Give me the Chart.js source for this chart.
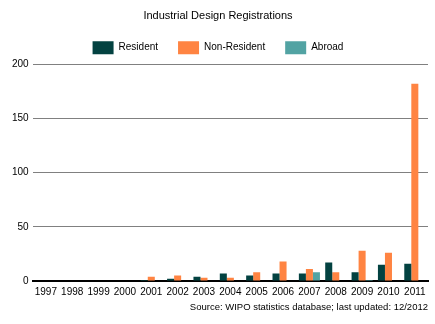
<!DOCTYPE html>
<html>
<head>
<meta charset="utf-8">
<script src="https://cdn.jsdelivr.net/npm/chart.js@4.4.0/dist/chart.umd.min.js"></script>
<style>
  html, body { margin: 0; padding: 0; background: #fff; }
  #wrap { width: 435px; height: 324px; position: relative; }
</style>
</head>
<body>
<div id="wrap"><canvas id="chart"></canvas></div>
<script>
// Industrial design registrations by year
const years = ['1997','1998','1999','2000','2001','2002','2003','2004','2005','2006','2007','2008','2009','2010','2011'];
const resident    = [0, 0, 0, 0, 1, 2, 4, 7, 5, 7, 7, 17, 8, 15, 16];
const nonResident = [0, 0, 0, 0, 4, 5, 3, 3, 8, 18, 11, 8, 28, 26, 182];
const abroad      = [0, 0, 0, 0, 0, 0, 0, 0, 0, 0, 8, 0, 1, 0, 0];
const yTicks = [0, 50, 100, 150, 200];

Chart.defaults.font.family = "'Liberation Sans', Arial, sans-serif";
Chart.defaults.font.size = 10;
Chart.defaults.color = '#000';

const ctx = document.getElementById('chart').getContext('2d');
new Chart(ctx, {
    type: 'bar',
    data: {
        labels: years,
        datasets: [
            { label: 'Resident', data: resident, backgroundColor: '#034241' },
            { label: 'Non-Resident', data: nonResident, backgroundColor: '#ff8442' },
            { label: 'Abroad', data: abroad, backgroundColor: '#52a3a3' }
        ]
    },
    options: {
        responsive: true,
        maintainAspectRatio: false,
        animation: false,
        layout: { padding: { left: 8, right: 7, top: 0, bottom: 0 } },
        datasets: {
            bar: { categoryPercentage: 0.8, barPercentage: 1.0 }
        },
        scales: {
            x: {
                grid: { display: false, drawTicks: false },
                border: { display: true, color: '#000', width: 2 },
                ticks: { autoSkip: false, maxRotation: 0, padding: 5 }
            },
            y: {
                min: 0,
                max: 200,
                afterBuildTicks: axis => { axis.ticks = yTicks.map(v => ({ value: v })); },
                grid: { color: '#808080', lineWidth: 1, drawTicks: false },
                border: { display: false },
                ticks: { padding: 4 }
            }
        },
        plugins: {
            title: {
                display: true,
                text: 'Industrial Design Registrations',
                font: { size: 11, weight: 'normal' },
                padding: { top: 9, bottom: -1 }
            },
            subtitle: {
                display: true,
                position: 'bottom',
                align: 'end',
                text: 'Source: WIPO statistics database; last updated: 12/2012',
                font: { size: 9.5 },
                padding: { top: -1.4, bottom: 11 }
            },
            legend: {
                position: 'top',
                labels: {
                    boxWidth: 21,
                    boxHeight: 13,
                    padding: 20
                }
            },
            tooltip: { enabled: false }
        }
    }
});
</script>
</body>
</html>
